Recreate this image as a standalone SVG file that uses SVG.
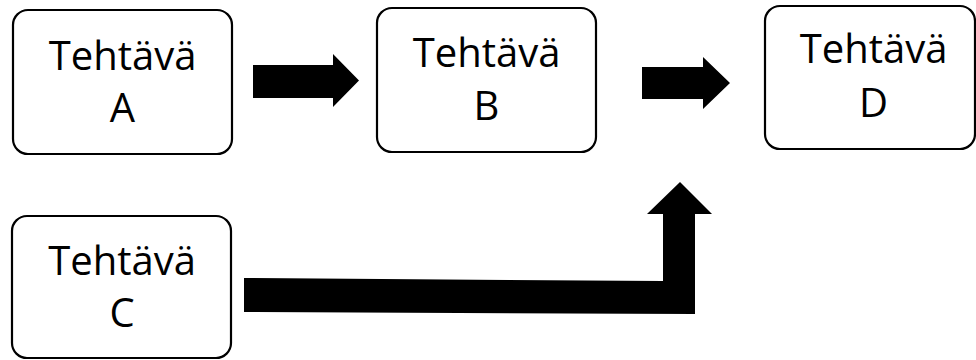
<svg xmlns="http://www.w3.org/2000/svg" width="976" height="360" viewBox="0 0 976 360">
  <style>
    .box { fill: #ffffff; stroke: #000000; stroke-width: 2.2; }
    .label { font-family: "Open Sans", "Liberation Sans", sans-serif; font-size: 40px; fill: #000000; text-anchor: middle; }
    .arrow { fill: #000000; stroke: none; }
  </style>
  <rect width="976" height="360" fill="#ffffff"/>

  <g id="task-a">
    <rect class="box" x="13" y="10" width="219" height="144" rx="15" ry="15"/>
    <text class="label" x="122.5" y="70">Tehtävä</text>
    <text class="label" x="122.5" y="122">A</text>
  </g>

  <g id="task-b">
    <rect class="box" x="377" y="8" width="219" height="144" rx="15" ry="15"/>
    <text class="label" x="486.5" y="67">Tehtävä</text>
    <text class="label" x="486.5" y="120">B</text>
  </g>

  <g id="task-d">
    <rect class="box" x="765" y="6" width="210" height="143" rx="15" ry="15"/>
    <text class="label" x="873.5" y="63">Tehtävä</text>
    <text class="label" x="873.5" y="117">D</text>
  </g>

  <g id="task-c">
    <rect class="box" x="12" y="216" width="219" height="142" rx="15" ry="15"/>
    <text class="label" x="122" y="275">Tehtävä</text>
    <text class="label" x="122" y="327">C</text>
  </g>

  <g id="connectors">
    <!-- A to B -->
    <polygon class="arrow" points="253,65 333,65 333,54 359,80.5 333,107 333,98 253,98"/>
    <!-- B to D -->
    <polygon class="arrow" points="642,67 703,67 703,57 730,83 703,109 703,99 642,99"/>
    <!-- C up into the B/D junction -->
    <polygon class="arrow" points="244,278 663,281 663,214 647,214 680,182 712,214 695,214 695,314 244,312"/>
  </g>
</svg>
